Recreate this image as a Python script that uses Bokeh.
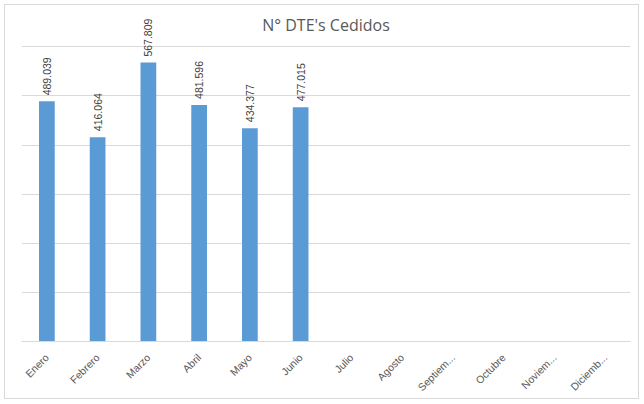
import math
from bokeh.plotting import figure
from bokeh.models import ColumnDataSource, LabelSet, Label, Range1d
from bokeh.core.properties import value
from bokeh.embed import file_html
from bokeh.resources import INLINE

# ---- data ----
months = ["Enero", "Febrero", "Marzo", "Abril", "Mayo", "Junio",
          "Julio", "Agosto", "Septiem...", "Octubre", "Noviem...", "Diciemb..."]
bar_months = ["Enero", "Febrero", "Marzo", "Abril", "Mayo", "Junio"]
cedidos = [489039, 416064, 567809, 481596, 434377, 477015]
y_ticks = [0, 100000, 200000, 300000, 400000, 500000, 600000]
title_text = "N° DTE's Cedidos"

def fmt(v):
    return "{:,}".format(v).replace(",", ".")

src = ColumnDataSource(dict(x=bar_months, y=cedidos, lab=[fmt(v) for v in cedidos]))

# frame spans 339 px, of which 300 px hold 0..600000; the rest is headroom for title/labels
y_top = y_ticks[-1] * 339 / 300

p = figure(x_range=months, y_range=Range1d(0, y_top),
           width=635, height=395, output_backend="svg", toolbar_location=None,
           min_border_left=16, min_border_right=10, min_border_top=3, min_border_bottom=53,
           margin=(4, 0, 0, 4),
           stylesheets=[":host { border: 1px solid #d9d9d9; }"])

p.vbar(x="x", top="y", width=0.31, source=src, color="#5b9bd5", line_color=None)

labels = LabelSet(x="x", y="y", text="lab", source=src, angle=math.pi / 2,
                  text_align="left", text_baseline="middle", y_offset=6,
                  text_font=value("Liberation Sans"), text_font_size="10.5px",
                  text_color="#404040")
p.add_layout(labels)

title = Label(x=len(months) / 2, y=y_top * 0.95, text=title_text,
              text_align="center", text_baseline="middle",
              text_font="Open Sans", text_font_size="16px", text_color="#595959")
p.add_layout(title)

p.outline_line_color = None
p.ygrid.grid_line_color = "#d9d9d9"
p.xgrid.grid_line_color = None
p.yaxis.ticker = y_ticks
p.yaxis.visible = False

p.xaxis.major_label_orientation = math.pi / 4
p.xaxis.axis_line_color = "#d9d9d9"
p.xaxis.major_tick_line_color = None
p.xaxis.minor_tick_line_color = None
p.xaxis.major_label_text_font = "Liberation Sans"
p.xaxis.major_label_text_font_size = "10.5px"
p.xaxis.major_label_text_color = "#595959"
p.xaxis.major_label_standoff = 8

open("out.html", "w").write(file_html(p, INLINE))
